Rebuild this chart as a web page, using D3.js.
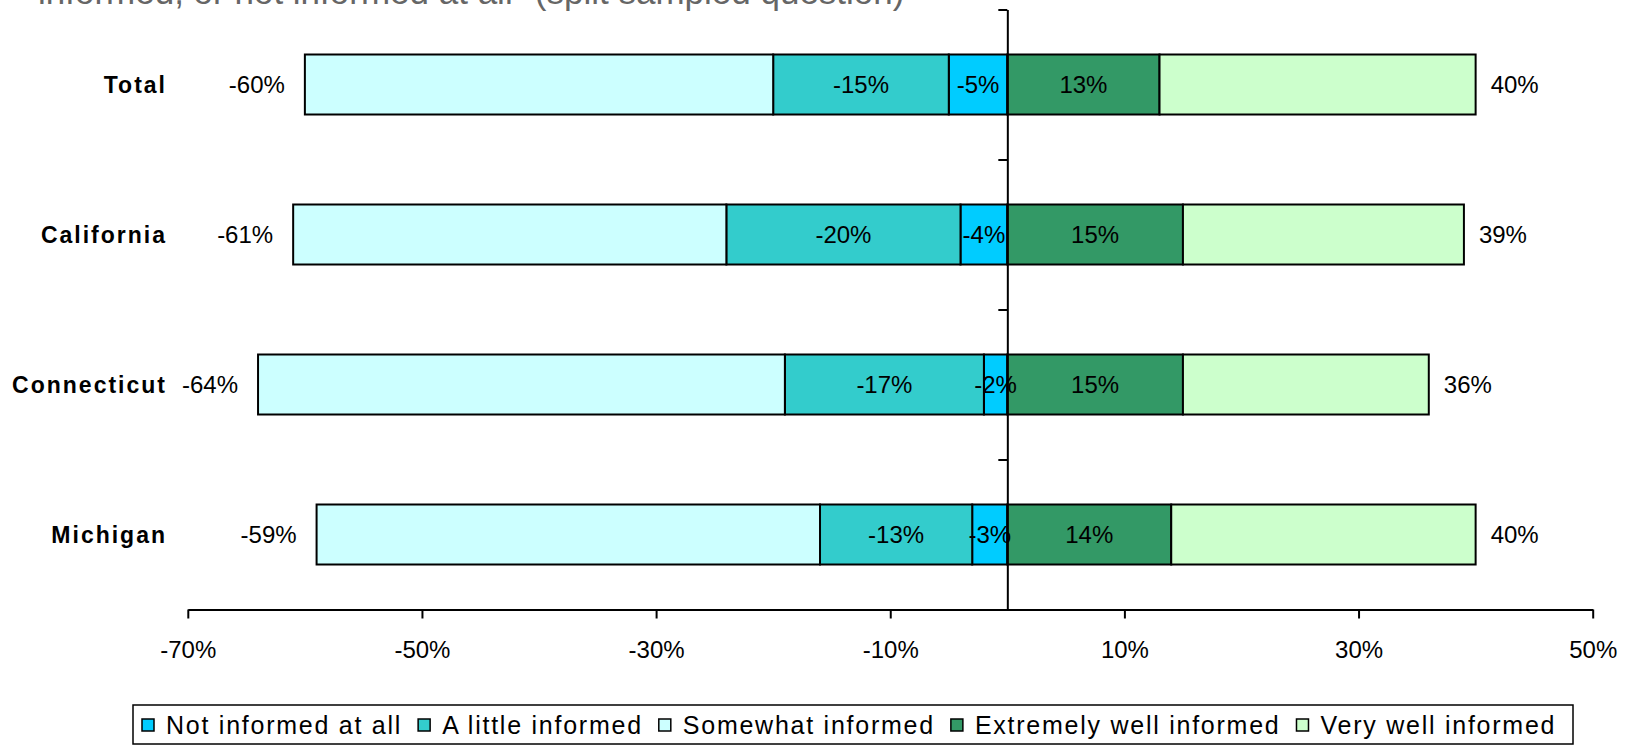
<!DOCTYPE html>
<html>
<head>
<meta charset="utf-8">
<script src="https://cdn.jsdelivr.net/npm/d3@7"></script>
<style>
  html, body { margin: 0; padding: 0; background: #ffffff; }
  svg { display: block; }
  text { font-family: "Liberation Sans", Arial, sans-serif; }
</style>
</head>
<body>
<svg id="chart" width="1627" height="745"></svg>
<script>
// Survey groups, top to bottom
const categories = ["Total", "California", "Connecticut", "Michigan"];

// Answer shares in percent (negative = less informed side)
const notInformed      = [-5, -4, -2, -3];
const littleInformed   = [-15, -20, -17, -13];
const somewhatInformed = [-40, -37, -45, -43];
const extremelyWell    = [13, 15, 15, 14];
const veryWell         = [27, 24, 21, 26];

// Axis tick labels (percent)
const xTicks = [-70, -50, -30, -10, 10, 30, 50];

const seriesNames = ["Not informed at all", "A little informed", "Somewhat informed",
                     "Extremely well informed", "Very well informed"];
const seriesColors = ["#00ccff", "#33cccc", "#ccffff", "#339966", "#ccffcc"];

const svg = d3.select("#chart");

const x = d3.scaleLinear().domain([-70, 50]).range([187.8, 1592.7]);
const y = d3.scaleBand().domain(categories).range([9.5, 609.5])
  .paddingInner(0.6).paddingOuter(0.3);

// Build stacked segments: negatives grow leftward from zero, positives rightward
const segs = [];
categories.forEach((c, i) => {
  let neg = 0;
  [[notInformed, 0], [littleInformed, 1], [somewhatInformed, 2]].forEach(([arr, s]) => {
    const v = arr[i];
    segs.push({ cat: c, s, v, x0: neg + v, x1: neg });
    neg += v;
  });
  let pos = 0;
  [[extremelyWell, 3], [veryWell, 4]].forEach(([arr, s]) => {
    const v = arr[i];
    segs.push({ cat: c, s, v, x0: pos, x1: pos + v });
    pos += v;
  });
});

// Title line (runs off the top edge)
svg.append("text")
  .attr("x", 38).attr("y", 4)
  .attr("font-family", "'DejaVu Sans', sans-serif")
  .attr("font-size", 35).attr("fill", "#666666")
  .text("informed, or not informed at all\" (split sampled question)");

// Bars
svg.append("g").selectAll("rect").data(segs).join("rect")
  .attr("x", d => x(d.x0))
  .attr("y", d => y(d.cat))
  .attr("width", d => x(d.x1) - x(d.x0))
  .attr("height", y.bandwidth())
  .attr("fill", d => seriesColors[d.s])
  .attr("stroke", "#000").attr("stroke-width", 2);

// Segment value labels (labelled series only)
svg.append("g").selectAll("text").data(segs.filter(d => d.s === 0 || d.s === 1 || d.s === 3))
  .join("text")
  .attr("x", d => x((d.x0 + d.x1) / 2))
  .attr("y", d => y(d.cat) + y.bandwidth() / 2)
  .attr("dy", "0.36em")
  .attr("text-anchor", "middle")
  .attr("font-size", 24).attr("fill", "#000")
  .text(d => d.v + "%");

// Totals at the bar ends
const totals = categories.map((c, i) => ({
  cat: c,
  neg: notInformed[i] + littleInformed[i] + somewhatInformed[i],
  pos: extremelyWell[i] + veryWell[i]
}));
const endLabels = svg.append("g");
endLabels.selectAll("text.neg").data(totals).join("text").attr("class", "neg")
  .attr("x", d => x(d.neg) - 20)
  .attr("y", d => y(d.cat) + y.bandwidth() / 2)
  .attr("dy", "0.36em").attr("text-anchor", "end")
  .attr("font-size", 24).text(d => d.neg + "%");
endLabels.selectAll("text.pos").data(totals).join("text").attr("class", "pos")
  .attr("x", d => x(d.pos) + 15)
  .attr("y", d => y(d.cat) + y.bandwidth() / 2)
  .attr("dy", "0.36em").attr("text-anchor", "start")
  .attr("font-size", 24).text(d => d.pos + "%");

// Category labels
svg.append("g").selectAll("text").data(categories).join("text")
  .attr("x", 167)
  .attr("y", d => y(d) + y.bandwidth() / 2)
  .attr("dy", "0.36em").attr("text-anchor", "end")
  .attr("font-size", 23).attr("font-weight", "bold")
  .attr("letter-spacing", 2)
  .text(d => d);

// Bottom value axis
const xAxis = svg.append("g")
  .attr("transform", `translate(0,${y.range()[1]})`)
  .call(d3.axisBottom(x).tickValues(xTicks).tickSize(9).tickSizeOuter(0)
    .tickPadding(22).tickFormat(d => d + "%"));
xAxis.select(".domain").attr("stroke", "#000").attr("stroke-width", 2);
xAxis.selectAll(".tick line").attr("stroke", "#000").attr("stroke-width", 2);
xAxis.selectAll(".tick text").attr("font-size", 24).attr("fill", "#000")
  .attr("font-family", "'Liberation Sans', Arial, sans-serif");

// Vertical zero axis with ticks between categories
const yb = d3.scaleLinear().domain([0, categories.length]).range(y.range());
const yAxis = svg.append("g")
  .attr("transform", `translate(${x(0)},0)`)
  .call(d3.axisLeft(yb).tickValues(d3.range(categories.length)).tickSize(9)
    .tickSizeOuter(0).tickFormat(""));
yAxis.select(".domain").attr("stroke", "#000").attr("stroke-width", 2);
yAxis.selectAll(".tick line").attr("stroke", "#000").attr("stroke-width", 2);

// Legend
const legend = svg.append("g");
legend.append("rect")
  .attr("x", 133).attr("y", 705).attr("width", 1440).attr("height", 39)
  .attr("fill", "#fff").attr("stroke", "#000").attr("stroke-width", 1.5);
let lx = 142;
seriesNames.forEach((name, i) => {
  legend.append("rect")
    .attr("x", lx).attr("y", 719).attr("width", 12).attr("height", 12)
    .attr("fill", seriesColors[i]).attr("stroke", "#000").attr("stroke-width", 1.5);
  const t = legend.append("text")
    .attr("x", lx + 24).attr("y", 725).attr("dy", "0.36em")
    .attr("font-size", 25).attr("letter-spacing", 1.75).attr("fill", "#000")
    .text(name);
  lx += 24 + t.node().getComputedTextLength() + 16;
});
</script>
</body>
</html>
